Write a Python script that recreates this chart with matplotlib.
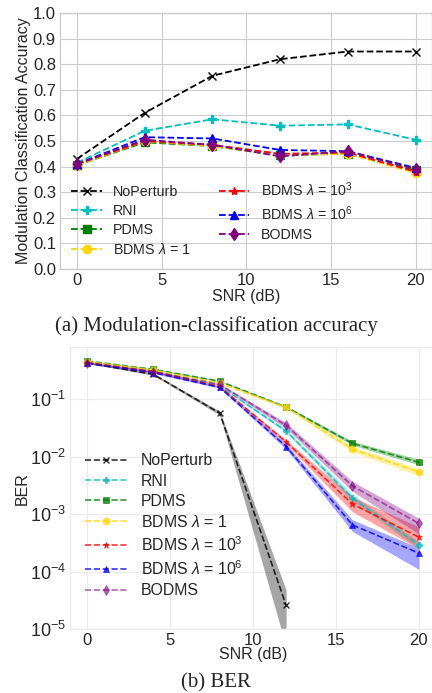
import matplotlib
matplotlib.use('Agg')
import matplotlib.pyplot as plt
import numpy as np

plt.style.use('seaborn-v0_8-whitegrid')
plt.rcParams['font.family'] = ['Liberation Sans', 'DejaVu Sans']
plt.rcParams['mathtext.fontset'] = 'custom'
plt.rcParams['mathtext.rm'] = 'Liberation Sans'
plt.rcParams['mathtext.it'] = 'Liberation Sans:italic'
plt.rcParams['mathtext.bf'] = 'Liberation Sans:bold'

snr = [0, 4, 8, 12, 16, 20]
names = ['NoPerturb', 'RNI', 'PDMS', r'BDMS $\lambda$ = 1',
         r'BDMS $\lambda$ = $10^3$', r'BDMS $\lambda$ = $10^6$', 'BODMS']
colors = ['black', 'c', 'green', 'gold', 'red', 'blue', 'purple']
markers = ['x', 'P', 's', 'o', '*', '^', 'd']

# (a) modulation classification accuracy
acc_noperturb = [0.43, 0.61, 0.755, 0.82, 0.85, 0.85]
acc_rni = [0.415, 0.54, 0.585, 0.56, 0.565, 0.505]
acc_pdms = [0.405, 0.495, 0.48, 0.445, 0.45, 0.385]
acc_bdms1 = [0.405, 0.50, 0.48, 0.445, 0.45, 0.375]
acc_bdms1e3 = [0.41, 0.50, 0.485, 0.45, 0.455, 0.38]
acc_bdms1e6 = [0.41, 0.515, 0.51, 0.465, 0.46, 0.395]
acc_bodms = [0.41, 0.505, 0.485, 0.44, 0.46, 0.39]

# (b) BER, mean and band
ber_noperturb = [0.43, 0.27, 0.057, 2.6e-5]
ber_noperturb_lo = [0.42, 0.26, 0.053, 5e-6]
ber_noperturb_hi = [0.44, 0.28, 0.062, 4.8e-5]
ber_rni = [0.44, 0.31, 0.17, 0.028, 0.0019, 0.00029]
ber_rni_lo = [0.43, 0.30, 0.165, 0.026, 0.0017, 0.00025]
ber_rni_hi = [0.45, 0.32, 0.175, 0.030, 0.0022, 0.00033]
ber_pdms = [0.46, 0.33, 0.205, 0.073, 0.017, 0.0080]
ber_pdms_lo = [0.45, 0.32, 0.20, 0.070, 0.0158, 0.0072]
ber_pdms_hi = [0.47, 0.34, 0.21, 0.076, 0.0185, 0.0090]
ber_bdms1 = [0.45, 0.32, 0.19, 0.072, 0.0135, 0.0054]
ber_bdms1_lo = [0.44, 0.31, 0.185, 0.069, 0.012, 0.0047]
ber_bdms1_hi = [0.46, 0.33, 0.195, 0.075, 0.015, 0.0062]
ber_bdms1e3 = [0.43, 0.30, 0.165, 0.018, 0.0015, 0.0004]
ber_bdms1e3_lo = [0.42, 0.29, 0.16, 0.0165, 0.0011, 0.00025]
ber_bdms1e3_hi = [0.44, 0.31, 0.17, 0.0195, 0.0020, 0.0006]
ber_bdms1e6 = [0.42, 0.29, 0.16, 0.015, 0.00065, 0.00021]
ber_bdms1e6_lo = [0.41, 0.28, 0.155, 0.0135, 0.0005, 0.00011]
ber_bdms1e6_hi = [0.43, 0.30, 0.165, 0.0165, 0.0008, 0.00026]
ber_bodms = [0.43, 0.30, 0.18, 0.035, 0.0031, 0.00069]
ber_bodms_lo = [0.42, 0.29, 0.175, 0.031, 0.0025, 0.00045]
ber_bodms_hi = [0.44, 0.31, 0.185, 0.039, 0.0037, 0.00085]

acc = [acc_noperturb, acc_rni, acc_pdms, acc_bdms1, acc_bdms1e3, acc_bdms1e6, acc_bodms]
ber = [ber_noperturb, ber_rni, ber_pdms, ber_bdms1, ber_bdms1e3, ber_bdms1e6, ber_bodms]
ber_lo = [ber_noperturb_lo, ber_rni_lo, ber_pdms_lo, ber_bdms1_lo, ber_bdms1e3_lo, ber_bdms1e6_lo, ber_bodms_lo]
ber_hi = [ber_noperturb_hi, ber_rni_hi, ber_pdms_hi, ber_bdms1_hi, ber_bdms1e3_hi, ber_bdms1e6_hi, ber_bodms_hi]

fig = plt.figure(figsize=(4.32, 6.93), dpi=100)

ax1 = fig.add_axes([0.139, 0.612, 0.862, 0.369])
for y, c, m, n in zip(acc, colors, markers, names):
    ax1.plot(snr, y, '--', color=c, marker=m, markersize=6, lw=1.3, label=n)
ax1.set_xlim(-1, 21)
ax1.set_ylim(0, 1.0)
ax1.set_yticks(np.arange(0, 1.01, 0.1))
ax1.set_xticks([0, 5, 10, 15, 20])
ax1.tick_params(labelsize=12, pad=3)
ax1.set_xlabel('SNR (dB)', fontsize=11.5, labelpad=1)
ax1.set_ylabel('Modulation Classification Accuracy', fontsize=11.5, labelpad=1)
ax1.legend(ncol=2, loc='lower left', fontsize=10.3, frameon=False,
           handlelength=2.1, handletextpad=0.8, columnspacing=2.0,
           labelspacing=0.35, borderaxespad=0.4)
for s in ax1.spines.values():
    s.set_color('#cccccc')

ax2 = fig.add_axes([0.163, 0.092, 0.845, 0.407])
for i in range(len(ber)):
    x = snr[:len(ber[i])]
    ax2.fill_between(x, ber_lo[i], ber_hi[i], color=colors[i], alpha=0.35, lw=0)
    ax2.plot(x, ber[i], '--', color=colors[i], marker=markers[i], markersize=5,
             lw=1.2, alpha=0.8 if i < 6 else 0.6, label=names[i],
             markeredgewidth=1 if i == 0 else 0.5)
ax2.set_yscale('log')
ax2.set_xlim(-1, 21)
ax2.set_ylim(1e-5, 0.8)
ax2.set_xticks([0, 5, 10, 15, 20])
ax2.minorticks_off()
ax2.grid(True, color='#ebebeb')
ax2.tick_params(axis='x', labelsize=12, pad=3)
ax2.tick_params(axis='y', labelsize=13, pad=3)
ax2.set_xlabel('SNR (dB)', fontsize=11.5, labelpad=-1)
ax2.set_ylabel('BER', fontsize=11.5, labelpad=0)
ax2.legend(loc='lower left', fontsize=11.4, frameon=False, handlelength=2.65,
           handletextpad=0.9, labelspacing=0.33, bbox_to_anchor=(0.0, 0.06))
for s in ax2.spines.values():
    s.set_color('#ebebeb')

fig.text(0.5, 0.529, '(a) Modulation-classification accuracy', ha='center', va='center',
         family=['Liberation Serif'], fontsize=15)
fig.text(0.5, 0.015, '(b) BER', ha='center', va='center',
         family=['Liberation Serif'], fontsize=15)

fig.savefig('out.png', dpi=100)
